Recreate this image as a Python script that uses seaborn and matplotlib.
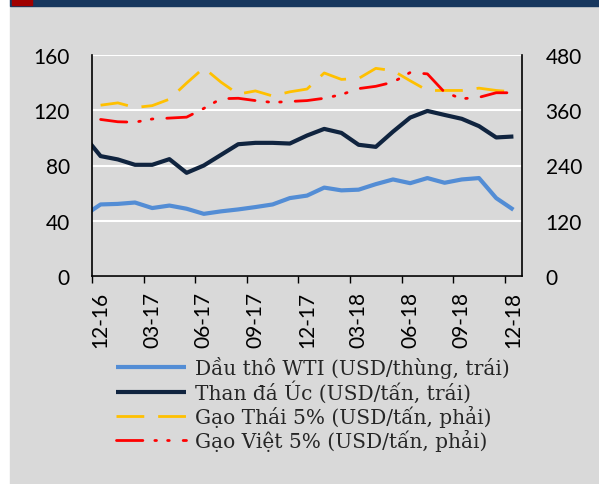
import numpy as np
import pandas as pd
import matplotlib
matplotlib.use("Agg")
import matplotlib.pyplot as plt
from matplotlib.patches import Rectangle
from matplotlib.ticker import FixedLocator
import seaborn as sns

# monthly data, 11-16 is only there so the lines run into the left axis
months = ["11-16", "12-16", "01-17", "02-17", "03-17", "04-17", "05-17", "06-17",
          "07-17", "08-17", "09-17", "10-17", "11-17", "12-17", "01-18", "02-18",
          "03-18", "04-18", "05-18", "06-18", "07-18", "08-18", "09-18", "10-18",
          "11-18", "12-18"]
wti = [43.5, 51.8, 52.2, 53.2, 49.2, 51.0, 48.7, 45.0, 46.8, 48.2, 49.9, 51.8, 56.4,
       58.2, 64.0, 62.0, 62.5, 66.5, 69.9, 67.2, 70.9, 67.5, 69.9, 70.9, 56.4, 48.0]
coal = [102.0, 86.8, 84.4, 80.5, 80.5, 84.6, 74.7, 80.0, 87.7, 95.4, 96.4, 96.4, 95.9,
        101.7, 106.5, 103.6, 95.0, 93.5, 104.5, 114.7, 119.5, 116.6, 113.8, 108.5,
        100.3, 101.0]
rice_thai = [np.nan, 371, 376, 366, 370, 384, 419, 452, 421, 395, 402, 391, 400, 406,
             441, 427, 429, 451, 446, 424, 403, 403, 403, 408, 403, 400]
rice_viet = [np.nan, 340, 335, 334, 341, 343, 345, 364, 385, 386, 381, 377, 379, 381,
             386, 394, 407, 412, 421, 442, 439, 399, 385, 388, 398, 398]

labels = ["Dầu thô WTI (USD/thùng, trái)", "Than đá Úc (USD/tấn, trái)",
          "Gạo Thái 5% (USD/tấn, phải)", "Gạo Việt 5% (USD/tấn, phải)"]
left_ticks = [0, 40, 80, 120, 160]
right_ticks = [0, 120, 240, 360, 480]

df = pd.DataFrame({"idx": np.arange(len(months)) - 1, "month": months,
                   "wti": wti, "coal": coal, "thai": rice_thai, "viet": rice_viet})

sns.set_style("white")
plt.rcParams["font.family"] = ["Lato", "DejaVu Sans"]

fig = plt.figure(figsize=(5.99, 4.85), dpi=100)
fig.patch.set_facecolor("white")
W, H = 599, 485
fig.patches.append(Rectangle((10 / W, 0), 1, (H - 7) / H, transform=fig.transFigure,
                             color="#d9d9d9", zorder=-10))
fig.patches.append(Rectangle((10 / W, (H - 7) / H), 1, 7 / H, transform=fig.transFigure,
                             color="#17375e", zorder=-9))
fig.patches.append(Rectangle((12 / W, (H - 6) / H), 20 / W, 6 / H, transform=fig.transFigure,
                             color="#a00000", zorder=-8))

ax = fig.add_axes([92 / W, 208 / H, 430 / W, 221 / H])
ax.set_facecolor("none")
ax2 = ax.twinx()

sns.lineplot(data=df, x="idx", y="wti", ax=ax, color="#538dd5", linewidth=3.0,
             label=labels[0], legend=False, solid_capstyle="butt")
sns.lineplot(data=df, x="idx", y="coal", ax=ax, color="#10243f", linewidth=3.0,
             label=labels[1], legend=False, solid_capstyle="butt")
sns.lineplot(data=df, x="idx", y="thai", ax=ax2, color="#ffc000", linewidth=2.0,
             label=labels[2], legend=False, linestyle=(0, (10, 5)))
sns.lineplot(data=df, x="idx", y="viet", ax=ax2, color="#ff0000", linewidth=2.0,
             label=labels[3], legend=False, linestyle=(0, (9.5, 4.3, 0.6, 4.0, 0.6, 5.0)),
             dash_capstyle="round")

ax.set_xlim(-0.5, 24.5)
ax.set_ylim(0, 160)
ax2.set_ylim(0, 480)
ax.set_yticks(left_ticks)
ax2.set_yticks(right_ticks)
ax.set_xlabel("")
ax.set_ylabel("")
ax2.set_ylabel("")

# labels on every third month, tick marks between the months
shown = list(range(0, 25, 3))
ax.set_xticks(shown)
ax.set_xticklabels([months[i + 1] for i in shown], rotation=90)
ax.xaxis.set_minor_locator(FixedLocator([i - 0.5 for i in shown]))
ax.tick_params(axis="x", which="major", length=0, pad=11, labelsize=15, colors="black")
ax.tick_params(axis="x", which="minor", length=5, width=1, direction="out", color="black",
               bottom=True)
ax.tick_params(axis="y", length=0, pad=16, labelsize=15, colors="black")
ax2.yaxis.set_minor_locator(FixedLocator([0, 480]))
ax2.tick_params(axis="y", which="major", length=0, pad=17, labelsize=15, colors="black")
ax2.tick_params(axis="y", which="minor", length=6.5, width=1, direction="out", color="black",
                right=True)

ax.grid(axis="y", color="white", linewidth=1.5)
ax.grid(axis="x", visible=False)
ax.set_axisbelow(True)
for a in (ax, ax2):
    a.spines["top"].set_visible(False)
    for s in ("left", "right", "bottom"):
        a.spines[s].set_color("black")
        a.spines[s].set_linewidth(1.2)
ax.spines["right"].set_visible(False)
ax2.spines["left"].set_visible(False)
ax2.spines["bottom"].set_visible(False)

handles = ax.get_lines()[:2] + ax2.get_lines()[:2]
fig.legend(handles, labels, loc="upper left", bbox_to_anchor=(116 / W, (H - 357) / H),
           frameon=False, borderpad=0, borderaxespad=0, handlelength=3.5,
           handletextpad=0.4, labelspacing=0.1,
           prop={"family": "DejaVu Serif", "size": 14.5})

fig.savefig("out.png", dpi=100, facecolor=fig.get_facecolor())
